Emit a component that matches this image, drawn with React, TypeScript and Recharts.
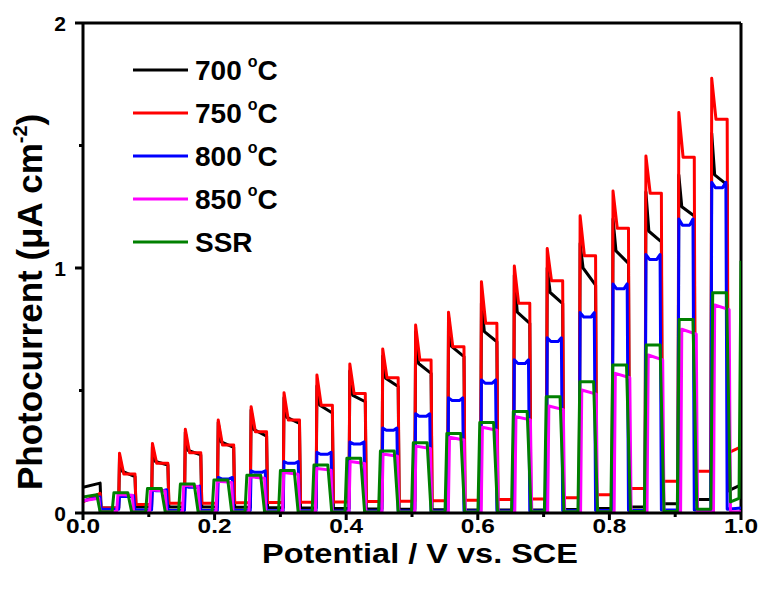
import { LineChart, Line, XAxis, YAxis, ReferenceLine } from "recharts";

// potentials (V vs. SCE) at which the light is switched on
const onMain = [0.055, 0.105, 0.155, 0.205, 0.255, 0.305, 0.355, 0.405, 0.455, 0.505, 0.555, 0.605, 0.655, 0.705, 0.755, 0.805, 0.855, 0.905, 0.955];
const on850 = [0.052, 0.102, 0.152, 0.203, 0.253, 0.304, 0.354, 0.405, 0.455, 0.505, 0.556, 0.606, 0.657, 0.707, 0.757, 0.808, 0.858, 0.909, 0.959];
const onSSR = [0.045, 0.096, 0.146, 0.197, 0.247, 0.298, 0.349, 0.399, 0.45, 0.5, 0.551, 0.601, 0.652, 0.702, 0.753, 0.803, 0.854, 0.904, 0.955];

// 700 °C
const peak700 = [0.23, 0.27, 0.33, 0.37, 0.42, 0.47, 0.518, 0.58, 0.64, 0.74, 0.8, 0.856, 0.97, 1.0, 1.1, 1.2, 1.31, 1.38, 1.55];
const mid700 = [0.17, 0.21, 0.255, 0.29, 0.34, 0.39, 0.44, 0.48, 0.55, 0.61, 0.68, 0.74, 0.82, 0.9, 1.0, 1.07, 1.15, 1.25, 1.38];
const end700 = [0.148, 0.196, 0.237, 0.268, 0.314, 0.366, 0.408, 0.454, 0.516, 0.57, 0.638, 0.699, 0.774, 0.855, 0.93, 1.019, 1.107, 1.212, 1.339];
const dark700 = [0.02, 0.025, 0.025, 0.025, 0.023, 0.021, 0.02, 0.018, 0.016, 0.015, 0.013, 0.012, 0.012, 0.012, 0.014, 0.018, 0.025, 0.038, 0.055, 0.09];
const start700 = [0.105, 0.122];
const last700 = 0.115;

// 750 °C
const peak750 = [0.244, 0.284, 0.342, 0.38, 0.434, 0.491, 0.563, 0.608, 0.669, 0.767, 0.819, 0.944, 1.008, 1.08, 1.213, 1.314, 1.457, 1.635, 1.774];
const plat750 = [0.159, 0.203, 0.246, 0.278, 0.332, 0.38, 0.44, 0.488, 0.552, 0.624, 0.679, 0.774, 0.856, 0.948, 1.05, 1.162, 1.305, 1.452, 1.607];
const dark750 = [0.02, 0.035, 0.04, 0.04, 0.042, 0.043, 0.044, 0.045, 0.047, 0.048, 0.05, 0.052, 0.055, 0.057, 0.062, 0.075, 0.1, 0.13, 0.17, 0.245];
const start750 = [0.045, 0.08];
const last750 = 0.27;

// 800 °C
const top800 = [0.07, 0.095, 0.11, 0.145, 0.172, 0.21, 0.248, 0.29, 0.347, 0.405, 0.47, 0.543, 0.625, 0.715, 0.818, 0.935, 1.055, 1.2, 1.35];
const dip800 = [0.067, 0.091, 0.105, 0.139, 0.166, 0.203, 0.24, 0.282, 0.338, 0.395, 0.459, 0.53, 0.61, 0.7, 0.8, 0.915, 1.035, 1.175, 1.328];
const dark800 = [0.015, 0.012, 0.01, 0.01, 0.01, 0.009, 0.009, 0.008, 0.008, 0.008, 0.008, 0.008, 0.008, 0.008, 0.009, 0.01, 0.01, 0.012, 0.012, 0.015];
const start800 = [0.05, 0.065];
const last800 = 0.02;

// 850 °C
const top850 = [0.075, 0.095, 0.113, 0.13, 0.148, 0.165, 0.182, 0.21, 0.241, 0.273, 0.309, 0.35, 0.393, 0.437, 0.502, 0.57, 0.645, 0.75, 0.849];
const tail850 = [0.072, 0.09, 0.108, 0.125, 0.142, 0.158, 0.175, 0.202, 0.232, 0.263, 0.298, 0.338, 0.38, 0.422, 0.485, 0.552, 0.625, 0.73, 0.83];
const dark850 = [0.006, 0.004, 0.004, 0.004, 0.004, 0.004, 0.004, 0.004, 0.004, 0.004, 0.004, 0.004, 0.004, 0.004, 0.004, 0.004, 0.004, 0.005, 0.005, 0.005];
const start850 = [0.05, 0.06];
const last850 = 0.005;

// SSR
const topSSR = [0.083, 0.1, 0.118, 0.135, 0.154, 0.173, 0.196, 0.223, 0.253, 0.287, 0.325, 0.369, 0.414, 0.474, 0.536, 0.604, 0.686, 0.79, 0.899];
const darkSSR = [0.005, 0.004, 0.004, 0.004, 0.004, 0.004, 0.004, 0.004, 0.004, 0.004, 0.004, 0.004, 0.004, 0.005, 0.005, 0.005, 0.006, 0.006, 0.015, 0.045];
const startSSR = [0.065, 0.075];
const tailVSSR = [0.997, 1.0];
const tailSSR = [0.06, 1.03];

const xTicks = [0, 0.1, 0.2, 0.3, 0.4, 0.5, 0.6, 0.7, 0.8, 0.9, 1.0];
const yTicks = [0, 0.5, 1, 1.5, 2];

type Pt = { v: number; j: number };

// one light-on/off sequence: shape = [offset after switch-on, values per pulse]
function chopped(
  on: number[],
  shape: [number, number[]][],
  fall: number,
  dark: number[],
  start: number[],
  initEnd: number,
  initFall: number,
  tailV: number[],
  tailJ: number[]
): Pt[] {
  const pts: Pt[] = [
    { v: 0, j: start[0] },
    { v: initEnd, j: start[1] },
    { v: initFall, j: dark[0] },
  ];
  on.forEach((t, k) => {
    pts.push({ v: t - 0.0008, j: dark[k] });
    shape.forEach(([dt, vals]) => pts.push({ v: t + dt, j: vals[k] }));
    pts.push({ v: t + fall, j: dark[k + 1] });
  });
  tailV.forEach((v, i) => pts.push({ v, j: tailJ[i] }));
  return pts;
}

const s700 = chopped(onMain, [[0.0005, peak700], [0.005, mid700], [0.024, end700]], 0.0255, dark700, start700, 0.026, 0.0275, [1.0], [last700]);
const s750 = chopped(onMain, [[0.0005, peak750], [0.007, plat750], [0.024, plat750]], 0.0255, dark750, start750, 0.026, 0.0275, [1.0], [last750]);
const s800 = chopped(onMain, [[0.0005, top800], [0.006, dip800], [0.017, dip800], [0.022, top800]], 0.024, dark800, start800, 0.026, 0.0275, [1.0], [last800]);
const s850 = chopped(on850, [[0.001, top850], [0.023, tail850]], 0.025, dark850, start850, 0.024, 0.026, [1.0], [last850]);
const sSSR = chopped(onSSR, [[0.002, topSSR], [0.023, topSSR]], 0.029, darkSSR, startSSR, 0.021, 0.026, tailVSSR, tailSSR);

const series = [
  { name: "700", color: "#000000", data: s700 },
  { name: "750", color: "#ff0000", data: s750 },
  { name: "800", color: "#0000ff", data: s800 },
  { name: "850", color: "#ff00ff", data: s850 },
  { name: "SSR", color: "#008000", data: sSSR },
];

const FONT = "'Liberation Sans', Arial, sans-serif";

function XTick(props: any) {
  const { x, y, payload } = props;
  const major = Math.round(payload.value * 10) % 2 === 0;
  return (
    <g>
      <line x1={x} x2={x} y1={y} y2={y + (major ? 7 : 4)} stroke="#000" strokeWidth={3} />
      {major && (
        <text x={x} y={y + 20} textAnchor="middle" fontFamily={FONT} fontWeight="bold" fontSize={20} fill="#000" textLength={34} lengthAdjust="spacingAndGlyphs">
          {payload.value.toFixed(1)}
        </text>
      )}
    </g>
  );
}

function YTick(props: any) {
  const { x, y, payload } = props;
  const major = payload.value % 1 === 0;
  return (
    <g>
      <line x1={x} x2={x - (major ? 8 : 4)} y1={y} y2={y} stroke="#000" strokeWidth={3} />
      {major && (
        <text x={x - 17} y={y + 7.5} textAnchor="end" fontFamily={FONT} fontWeight="bold" fontSize={21} fill="#000">
          {payload.value}
        </text>
      )}
    </g>
  );
}

const legendRows = [
  { label: "700", color: "#000000", deg: true },
  { label: "750", color: "#ff0000", deg: true },
  { label: "800", color: "#0000ff", deg: true },
  { label: "850", color: "#ff00ff", deg: true },
  { label: "SSR", color: "#008000", deg: false },
];

export default function App() {
  return (
    <div style={{ position: "absolute", left: 0, top: 0, width: 764, height: 590, background: "#fff" }}>
      <LineChart width={764} height={590} margin={{ top: 23, right: 23, bottom: 0, left: 0 }}>
        <XAxis
          dataKey="v"
          type="number"
          domain={[0, 1]}
          allowDataOverflow
          ticks={xTicks}
          tick={<XTick />}
          tickLine={false}
          tickSize={0}
          tickMargin={0}
          height={77}
          axisLine={{ stroke: "#000", strokeWidth: 3 }}
        />
        <YAxis
          type="number"
          domain={[0, 2]}
          allowDataOverflow
          ticks={yTicks}
          tick={<YTick />}
          tickLine={false}
          tickSize={0}
          tickMargin={0}
          width={83}
          axisLine={{ stroke: "#000", strokeWidth: 3 }}
        />
        <ReferenceLine y={2} stroke="#000" strokeWidth={3} />
        <ReferenceLine x={1} stroke="#000" strokeWidth={3} />
        {series.map((s) => (
          <Line
            key={s.name}
            data={s.data}
            dataKey="j"
            type="linear"
            stroke={s.color}
            strokeWidth={3}
            strokeLinejoin="round"
            dot={false}
            activeDot={false}
            isAnimationActive={false}
          />
        ))}
      </LineChart>
      <svg width={764} height={590} style={{ position: "absolute", left: 0, top: 0, pointerEvents: "none" }}>
        {legendRows.map((r, i) => {
          const cy = 70 + i * 43;
          return (
            <g key={r.label}>
              <line x1={133} x2={188} y1={cy} y2={cy} stroke={r.color} strokeWidth={3} />
              <text x={195} y={cy + 10} fontFamily={FONT} fontWeight="bold" fontSize={28} fill="#000">
                {r.label}
                {r.deg && (
                  <>
                    <tspan fontSize={16} dx={6} dy={-13}>o</tspan>
                    <tspan dy={13}>C</tspan>
                  </>
                )}
              </text>
            </g>
          );
        })}
        <text x={420} y={563} textAnchor="middle" fontFamily={FONT} fontWeight="bold" fontSize={28} fill="#000" textLength={316} lengthAdjust="spacingAndGlyphs">
          Potential / V vs. SCE
        </text>
        <text transform="translate(42,490) rotate(-90)" x={0} y={0} fontFamily={FONT} fontWeight="bold" fontSize={35} fill="#000">
          Photocurrent (μA cm
          <tspan fontSize={20} dy={-15}>-2</tspan>
          <tspan dy={15}>)</tspan>
        </text>
      </svg>
    </div>
  );
}
